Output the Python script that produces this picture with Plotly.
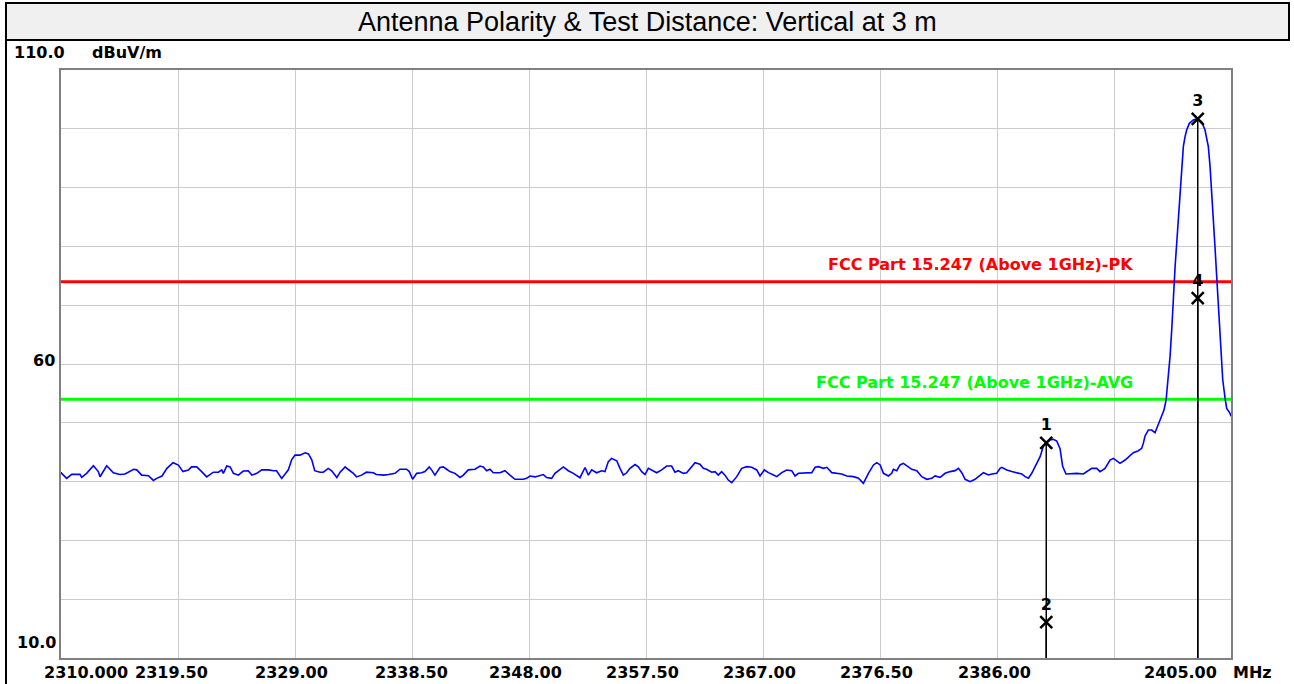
import plotly.graph_objects as go

# Measured trace (MHz, dBuV/m)
freq_mhz = [
    2310.00, 2310.05, 2310.46, 2310.87, 2311.54, 2311.68, 2312.08, 2312.63, 2313.03, 2313.17,
    2313.71, 2314.25, 2314.79, 2315.20, 2315.90, 2316.15, 2316.55, 2317.10, 2317.50, 2317.77,
    2318.20, 2318.60, 2319.10, 2319.53, 2319.90, 2320.34, 2320.60, 2321.02, 2321.42, 2321.83,
    2322.37, 2322.78, 2323.05, 2323.18, 2323.46, 2323.73, 2324.00, 2324.40, 2324.80, 2325.20,
    2325.50, 2325.90, 2326.30, 2326.84, 2327.25, 2327.50, 2327.92, 2328.46, 2328.73, 2329.00,
    2329.40, 2329.82, 2330.09, 2330.36, 2330.60, 2331.03, 2331.30, 2331.70, 2331.98, 2332.40,
    2332.66, 2333.07, 2333.30, 2333.74, 2334.00, 2334.40, 2334.80, 2335.36, 2335.60, 2336.20,
    2336.60, 2337.12, 2337.52, 2338.06, 2338.28, 2338.55, 2338.88, 2339.28, 2339.55, 2339.90,
    2340.09, 2340.36, 2340.77, 2341.04, 2341.31, 2341.58, 2341.99, 2342.40, 2342.67, 2343.07,
    2343.61, 2344.02, 2344.29, 2344.56, 2344.83, 2345.10, 2345.64, 2346.05, 2346.45, 2346.86,
    2347.54, 2347.81, 2348.08, 2348.48, 2348.75, 2349.16, 2349.43, 2349.84, 2350.11, 2350.38,
    2350.79, 2351.19, 2351.60, 2352.14, 2352.55, 2352.82, 2353.09, 2353.49, 2353.90, 2354.17,
    2354.44, 2354.71, 2355.12, 2355.39, 2355.66, 2355.93, 2356.20, 2356.61, 2356.88, 2357.15,
    2357.42, 2357.69, 2358.10, 2358.37, 2358.77, 2359.18, 2359.58, 2359.85, 2360.12, 2360.53,
    2360.80, 2361.21, 2361.48, 2361.88, 2362.15, 2362.42, 2362.83, 2363.10, 2363.37, 2363.64,
    2363.91, 2364.18, 2364.46, 2364.87, 2365.27, 2365.68, 2366.09, 2366.49, 2366.76, 2367.11,
    2367.44, 2367.85, 2368.12, 2368.52, 2368.93, 2369.33, 2369.60, 2369.88, 2370.42, 2370.96,
    2371.23, 2371.50, 2371.91, 2372.18, 2372.58, 2372.99, 2373.39, 2373.80, 2374.34, 2374.75,
    2375.15, 2375.56, 2375.97, 2376.24, 2376.51, 2376.78, 2377.18, 2377.45, 2377.59, 2377.86,
    2378.13, 2378.40, 2378.81, 2379.08, 2379.49, 2379.89, 2380.30, 2380.70, 2380.97, 2381.38,
    2381.79, 2382.19, 2382.60, 2382.87, 2383.14, 2383.41, 2383.82, 2384.22, 2384.49, 2384.90,
    2385.31, 2385.58, 2385.98, 2386.25, 2386.39, 2386.79, 2387.20, 2387.61, 2388.01, 2388.28,
    2388.55, 2388.82, 2389.23, 2389.50, 2389.77, 2390.04, 2390.31, 2390.58, 2390.85, 2391.12,
    2391.33, 2391.60, 2392.06, 2392.47, 2393.01, 2393.28, 2393.69, 2394.09, 2394.37, 2394.77,
    2395.18, 2395.45, 2395.72, 2395.99, 2396.40, 2396.80, 2397.07, 2397.48, 2397.75, 2397.88,
    2398.02, 2398.29, 2398.56, 2398.83, 2398.97, 2399.18, 2399.37, 2399.56, 2399.73, 2399.91,
    2400.05, 2400.19, 2400.32, 2400.46, 2400.59, 2400.73, 2400.86, 2401.00, 2401.13, 2401.27,
    2401.40, 2401.62, 2401.94, 2402.27, 2402.62, 2402.89, 2403.03, 2403.16, 2403.30, 2403.43,
    2403.57, 2403.70, 2403.84, 2403.98, 2404.11, 2404.20, 2404.33, 2404.52, 2404.65, 2404.92,
    2405.00,
]
level_dbuv = [
    41.6, 41.4, 40.55, 41.23, 41.23, 40.72, 41.4, 42.7, 41.7, 40.83,
    42.7, 41.5, 41.2, 41.3, 42.1, 42.0, 41.1, 41.0, 40.2, 40.55,
    40.95, 42.25, 43.2, 42.8, 41.7, 41.97, 42.5, 42.5, 41.7, 40.8,
    41.6, 41.6, 42.0, 41.4, 42.65, 42.5, 41.4, 41.1, 41.8, 41.85,
    41.1, 41.4, 42.0, 42.0, 41.85, 41.85, 40.55, 42.0, 43.7, 44.5,
    44.5, 44.9, 44.7, 43.7, 41.85, 41.6, 41.6, 42.25, 41.85, 40.7,
    41.6, 42.5, 42.1, 41.4, 40.8, 41.1, 41.6, 41.5, 41.2, 41.1,
    41.2, 41.4, 42.1, 42.1, 41.7, 40.4, 41.4, 41.5, 41.7, 42.5,
    42.0, 41.1, 42.4, 42.5, 42.1, 41.7, 41.4, 40.7, 41.1, 42.0,
    42.1, 42.65, 42.5, 41.85, 42.1, 41.5, 41.5, 41.85, 41.1, 40.4,
    40.4, 40.55, 40.95, 40.8, 40.95, 41.2, 40.7, 40.55, 41.4, 41.85,
    42.5, 41.85, 41.4, 40.66, 42.4, 41.1, 42.0, 41.5, 41.85, 41.7,
    43.4, 43.95, 43.55, 42.25, 41.1, 41.5, 42.25, 42.9, 42.5, 41.7,
    41.2, 42.25, 41.85, 41.5, 42.0, 42.65, 42.65, 41.6, 41.85, 41.4,
    41.5, 42.5, 43.2, 42.95, 42.25, 42.1, 41.6, 41.7, 41.1, 41.7,
    41.1, 40.27, 39.82, 40.84, 42.26, 42.54, 42.43, 41.98, 40.96, 41.98,
    41.52, 41.13, 40.84, 41.52, 41.98, 41.86, 40.96, 41.41, 41.52, 41.52,
    42.43, 42.54, 42.26, 42.43, 41.52, 41.41, 41.3, 40.96, 40.84, 40.56,
    39.71, 41.41, 42.83, 43.22, 42.83, 41.41, 40.96, 41.41, 42.09, 41.86,
    42.83, 43.11, 42.54, 42.09, 41.86, 40.84, 40.39, 40.56, 40.96, 40.73,
    41.41, 41.7, 41.86, 42.26, 41.52, 40.39, 39.99, 40.39, 40.84, 41.52,
    41.13, 41.3, 41.41, 42.26, 42.43, 41.98, 41.7, 41.52, 41.3, 40.84,
    40.56, 41.41, 43.11, 44.24, 46.06, 46.51, 47.08, 47.19, 46.9, 45.6,
    42.6, 41.3, 41.4, 41.4, 41.29, 41.69, 42.25, 42.25, 41.69, 42.25,
    43.67, 43.95, 43.5, 43.1, 43.67, 44.35, 44.92, 45.26, 45.66, 46.5,
    47.76, 48.77, 48.77, 48.32, 49.06, 50.19, 51.04, 52.17, 53.88, 57.84,
    61.25, 65.9, 72.0, 76.55, 80.5, 84.5, 88.5, 93.5, 96.96, 98.66,
    99.8, 100.93, 101.5, 101.72, 101.21, 99.8, 98.38, 96.96, 93.56, 89.59,
    84.49, 79.95, 74.85, 69.75, 65.0, 61.5, 57.28, 54.16, 52.46, 51.61,
    51.1,
]

limit_names = ["FCC Part 15.247 (Above 1GHz)-PK", "FCC Part 15.247 (Above 1GHz)-AVG"]
limit_levels = [74.0, 54.0]
limit_colors = ["#ff0000", "#00ff00"]

marker_ids = ["1", "2", "3", "4"]
marker_freq = [2390.0, 2390.0, 2402.3, 2402.3]
marker_level = [46.6, 16.1, 101.7, 71.2]

x_tick_vals = [2310.0, 2319.5, 2329.0, 2338.5, 2348.0, 2357.5, 2367.0, 2376.5, 2386.0, 2405.0]
x_tick_text = ["2310.000", "2319.50", "2329.00", "2338.50", "2348.00", "2357.50",
               "2367.00", "2376.50", "2386.00", "2405.00"]
x_tick_shift = [25, -7, -4, -1, -4, -4, -4, -4, -3, -51]

title_text = "Antenna Polarity & Test Distance: Vertical at 3 m"

# plot area in pixels
L, R, T, B = 61, 1231, 70, 658
W, H = 1294, 684


def px(x):
    return (x - L) / (R - L)


def py(y):
    return (B - y) / (B - T)


lab_font = dict(family="DejaVu Sans", size=16, color="black", weight="bold")

fig = go.Figure()

for name, lvl, col in zip(limit_names, limit_levels, limit_colors):
    fig.add_trace(go.Scatter(x=[2310, 2405], y=[lvl, lvl], mode="lines",
                             line=dict(color=col, width=3), hoverinfo="skip"))
    fig.add_annotation(x=2397.2, y=lvl, xref="x", yref="y", text=name, showarrow=False,
                       xanchor="right", yanchor="middle", yshift=17,
                       font=dict(family="DejaVu Sans", size=16, color=col, weight="bold"))

# marker drop lines
for f, lvl in zip(marker_freq, marker_level):
    fig.add_shape(type="line", xref="x", yref="y", x0=f, x1=f, y0=10, y1=lvl,
                  line=dict(color="black", width=1.5))

fig.add_trace(go.Scatter(x=freq_mhz, y=level_dbuv, mode="lines",
                         line=dict(color="#0000ff", width=1.6), hoverinfo="skip"))

fig.add_trace(go.Scatter(x=marker_freq, y=marker_level, mode="markers+text",
                         text=marker_ids, textposition="top center",
                         textfont=lab_font,
                         marker=dict(symbol="x-thin", size=12, color="black",
                                     line=dict(color="black", width=2.5)),
                         hoverinfo="skip"))

# header box and frame
fig.add_shape(type="rect", xref="paper", yref="paper", x0=px(6), x1=px(1289), y0=py(40), y1=py(3),
              fillcolor="#f0f0f0", line=dict(color="black", width=2), layer="below")
fig.add_shape(type="line", xref="paper", yref="paper", x0=px(6), x1=px(6), y0=py(690), y1=py(40),
              line=dict(color="black", width=2))
fig.add_annotation(x=px(647), y=py(22), xref="paper", yref="paper", text=title_text,
                   showarrow=False, xanchor="center", yanchor="middle",
                   font=dict(family="Liberation Sans, Arial", size=27, color="black"))

# axis texts
y_texts = [("110.0", 39, 53), ("dBuV/m", 127, 53), ("60", 44, 360), ("10.0", 36, 642)]
for t, xp, yp in y_texts:
    fig.add_annotation(x=px(xp), y=py(yp), xref="paper", yref="paper", text=t,
                       showarrow=False, xanchor="center", yanchor="middle", font=lab_font)
for v, t, s in zip(x_tick_vals, x_tick_text, x_tick_shift):
    fig.add_annotation(x=v, y=py(672), xref="x", yref="paper", text=t, xshift=s,
                       showarrow=False, xanchor="center", yanchor="middle", font=lab_font)
fig.add_annotation(x=2405.0, y=py(672), xref="x", yref="paper", text="MHz", xshift=21,
                   showarrow=False, xanchor="center", yanchor="middle", font=lab_font)

fig.update_xaxes(range=[2310, 2405], tick0=2310, dtick=9.5, showticklabels=False, ticks="",
                 showgrid=True, gridcolor="#cccccc", gridwidth=1, zeroline=False,
                 showline=True, mirror=True, linecolor="#808080", linewidth=2)
fig.update_yaxes(range=[10, 110], tick0=10, dtick=10, showticklabels=False, ticks="",
                 showgrid=True, gridcolor="#cccccc", gridwidth=1, zeroline=False,
                 showline=True, mirror=True, linecolor="#808080", linewidth=2)

fig.update_layout(width=W, height=H, showlegend=False,
                  margin=dict(l=L, r=W - R, t=T, b=H - B),
                  plot_bgcolor="white", paper_bgcolor="white")

fig.write_html("out.html", config={"displayModeBar": False},
               post_script="document.body.style.margin='0';document.body.style.overflow='hidden';")
